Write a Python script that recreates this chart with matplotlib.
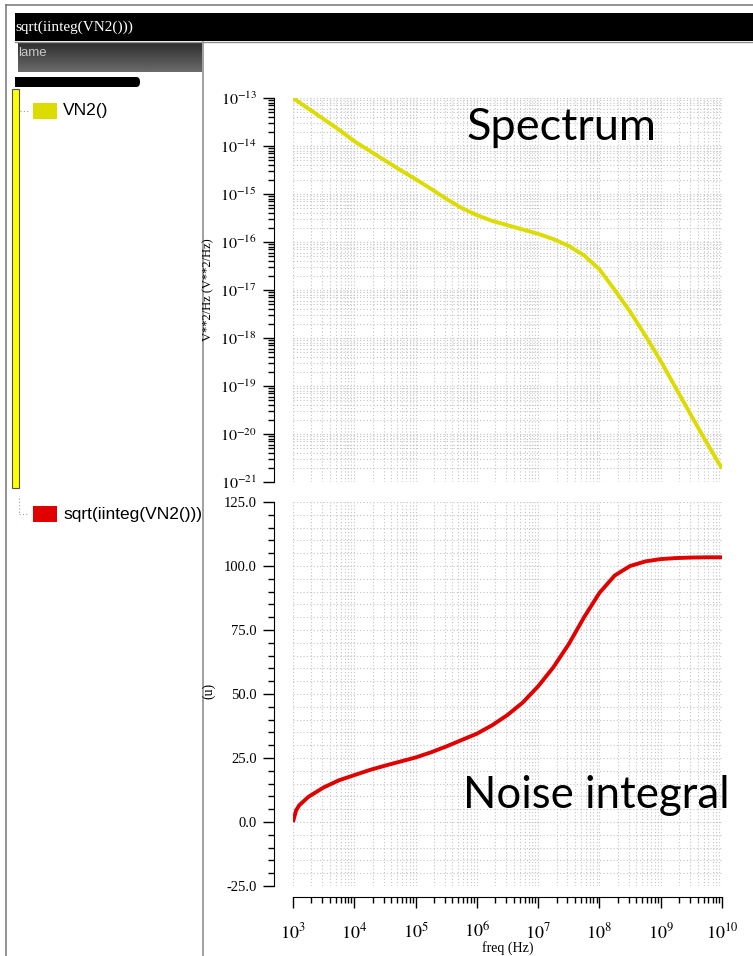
import numpy as np
import matplotlib
matplotlib.use('Agg')
import matplotlib.pyplot as plt
from matplotlib.patches import Rectangle, FancyBboxPatch
from matplotlib.lines import Line2D
from matplotlib.transforms import Bbox, TransformedBbox
from matplotlib.ticker import LogLocator, MultipleLocator, FuncFormatter, NullFormatter

plt.rcParams['mathtext.fontset'] = 'stix'

W, H = 753, 956

log_freq = [3.0, 3.25, 3.5, 3.75, 4.0, 4.25, 4.5, 4.75, 5.0, 5.25, 5.5, 5.75,
            6.0, 6.25, 6.5, 6.75, 7.0, 7.25, 7.5, 7.75, 8.0, 8.25, 8.5, 8.75,
            9.0, 9.25, 9.5, 9.75, 10.0]
# log10 of VN2() in V**2/Hz
spectrum_exp = [-13.00, -13.22, -13.44, -13.66, -13.90, -14.10, -14.30, -14.50,
                -14.69, -14.89, -15.10, -15.29, -15.44, -15.56, -15.65, -15.74,
                -15.83, -15.94, -16.08, -16.28, -16.57, -17.00, -17.45, -17.95,
                -18.48, -19.05, -19.62, -20.18, -20.72]

# sqrt(iinteg(VN2())) samples
integ_log_freq = [3.0, 3.05, 3.1, 3.25, 3.5, 3.75, 4.0, 4.25, 4.5, 4.75, 5.0,
                  5.25, 5.5, 5.75, 6.0, 6.25, 6.5, 6.75, 7.0, 7.25, 7.5, 7.75,
                  8.0, 8.25, 8.5, 8.75, 9.0, 9.25, 9.5, 9.75, 10.0]
integ_val = [0.0, 4.5, 6.5, 9.8, 13.5, 16.3, 18.3, 20.3, 22.0, 23.6, 25.2,
             27.2, 29.5, 32.0, 34.5, 37.8, 41.8, 46.7, 53.0, 60.5, 69.5, 80.0,
             89.5, 96.3, 100.0, 101.8, 102.7, 103.1, 103.3, 103.4, 103.4]

spec_ticks = list(range(-21, -12))
integ_ticks = [-25.0, 0.0, 25.0, 50.0, 75.0, 100.0, 125.0]

fig = plt.figure(figsize=(W / 100, H / 100), dpi=100)


def fx(x):
    return x / W


def fy(y):
    return 1 - y / H


def px_axes(x0, y0, x1, y1):
    return fig.add_axes([fx(x0), fy(y1), (x1 - x0) / W, (y1 - y0) / H])


def px_rect(x0, y0, x1, y1, **kw):
    r = Rectangle((fx(x0), fy(y1)), (x1 - x0) / W, (y1 - y0) / H,
                  transform=fig.transFigure, **kw)
    fig.patches.append(r)
    return r


def px_line(xs, ys, **kw):
    fig.lines.append(Line2D([fx(v) for v in xs], [fy(v) for v in ys],
                            transform=fig.transFigure, **kw))


# ---- window chrome on the left ----
px_line([6, W], [5, 5], color='#808080', lw=1.2)
px_line([6, 6], [5, H], color='#808080', lw=1.2)
px_rect(15, 13, W, 41, facecolor='black', edgecolor='none')
px_line([15, W], [41.5, 41.5], color='#909090', lw=1)
fig.text(fx(15), fy(27), 'sqrt(iinteg(VN2()))', color='white', fontsize=11,
         family='Liberation Serif', va='center')

hdr = px_axes(18, 42, 202, 72)
grad = np.linspace(0.18, 0.42, 50).reshape(-1, 1)
hdr.imshow(grad, cmap='gray', vmin=0, vmax=1, aspect='auto')
hdr.set_axis_off()
fig.text(fx(18), fy(53), 'lame', color='#c8c8c8', fontsize=9.5,
         family='Liberation Sans', va='center')

px_line([202.5, 202.5], [42, H], color='#909090', lw=1.2)

bar = FancyBboxPatch((fx(17), fy(87)), (140 - 17) / W, 10 / H,
                     boxstyle='round,pad=0,rounding_size=0.005',
                     transform=fig.transFigure, facecolor='black', edgecolor='none')
fig.patches.append(bar)
px_rect(15, 77, 22, 87, facecolor='black', edgecolor='none')

px_rect(12, 89, 19, 488, facecolor='#ffff00', edgecolor='#505050', lw=0.8)

px_line([20, 28], [111, 111], color='#a0a0a0', lw=0.8, linestyle=(0, (1, 2)))
px_line([19, 19], [498, 514], color='#a0a0a0', lw=0.8, linestyle=(0, (1, 2)))
px_line([19, 28], [514, 514], color='#a0a0a0', lw=0.8, linestyle=(0, (1, 2)))

px_rect(33, 103, 57, 119, facecolor='#dcdc00', edgecolor='none')
fig.text(fx(63), fy(111), 'VN2()', fontsize=12.5, family='Liberation Sans',
         va='center')
px_rect(33, 506, 57, 522, facecolor='#e00000', edgecolor='none')
t = fig.text(fx(63), fy(514), 'sqrt(iinteg(VN2()))', fontsize=12.5,
             family='Liberation Sans', va='center')
t.set_clip_box(TransformedBbox(Bbox.from_extents(0, 0, fx(202), 1), fig.transFigure))
t.set_clip_on(True)

# ---- plots ----
grid_kw = dict(color='#c4c4c4', linestyle=(0, (1, 2)), linewidth=0.8)
freq = 10.0 ** np.array(log_freq)
spectrum = 10.0 ** np.array(spectrum_exp)
integ_freq = 10.0 ** np.array(integ_log_freq)


def style_axes(ax):
    for s in ['top', 'right']:
        ax.spines[s].set_visible(False)
    ax.spines['left'].set_position(('outward', 14))
    ax.tick_params(axis='both', which='major', length=8, width=1, color='black')
    ax.tick_params(axis='both', which='minor', length=4, width=1, color='black')
    ax.tick_params(axis='y', which='both', pad=4, labelsize=10.5)
    ax.set_xscale('log')
    ax.set_xlim(1e3, 1e10)
    ax.xaxis.set_major_locator(LogLocator(base=10, numticks=20))
    ax.xaxis.set_minor_locator(LogLocator(base=10, subs=np.arange(2, 10), numticks=20))
    ax.xaxis.set_minor_formatter(NullFormatter())
    ax.grid(True, which='both', **grid_kw)
    ax.set_axisbelow(True)


ax1 = px_axes(293, 98, 722, 482)
ax1.set_yscale('log')
ax1.set_ylim(1e-21, 1e-13)
ax1.plot(freq, spectrum, color='#dcdc00', lw=2.8, solid_capstyle='butt')
style_axes(ax1)
ax1.spines['bottom'].set_visible(False)
ax1.tick_params(axis='x', which='both', bottom=False, labelbottom=False)
ax1.set_yticks([10.0 ** e for e in spec_ticks])
ax1.yaxis.set_minor_locator(LogLocator(base=10, subs=np.arange(2, 10), numticks=20))
ax1.yaxis.set_minor_formatter(NullFormatter())
ax1.yaxis.set_major_formatter(FuncFormatter(lambda v, p: r'$10^{%d}$' % round(np.log10(v))))
ax1.tick_params(axis='y', which='major', labelsize=11.5)
ax1.set_ylim(1e-21, 1e-13)

ax2 = px_axes(293, 502, 722, 886)
ax2.plot(integ_freq, integ_val, color='#e00000', lw=2.8, solid_capstyle='butt')
style_axes(ax2)
ax2.set_ylim(-25, 125)
ax2.set_yticks(integ_ticks)
ax2.yaxis.set_minor_locator(MultipleLocator(5))
ax2.set_yticklabels(['%.1f' % v for v in integ_ticks], family='Liberation Serif',
                    fontsize=10.5)
ax2.spines['bottom'].set_position(('outward', 8))
ax2.tick_params(axis='x', which='major', pad=10, labelsize=13)
ax2.xaxis.set_major_formatter(FuncFormatter(lambda v, p: r'$10^{%d}$' % round(np.log10(v))))

fig.text(fx(208), fy(290), 'V**2/Hz (V**2/Hz)', rotation=90, fontsize=9,
         family='Liberation Serif', va='center', ha='center')
fig.text(fx(209), fy(691), '(u)', rotation=90, fontsize=10,
         family='Liberation Serif', va='center', ha='center')
fig.text(fx(508), fy(948), 'freq (Hz)', fontsize=10, family='Liberation Serif',
         va='center', ha='center')

fig.text(fx(467), fy(128), 'Spectrum', fontsize=32.5, family='Lato', va='center')
fig.text(fx(463), fy(795), 'Noise integral', fontsize=31.5, family='Lato', va='center')

fig.savefig('out.png', dpi=100)
